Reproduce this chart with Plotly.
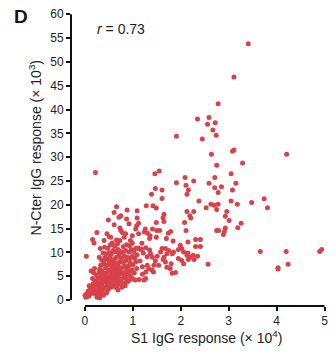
import plotly.graph_objects as go

# ---- data: S1 IgG (x 10^4) vs N-Cter IgG (x 10^3) ----
# upper / sparse points
s1_upper = [3.41, 3.11, 2.78, 2.35, 2.59, 2.72, 2.56, 2.67, 2.74, 2.45, 1.91, 3.08, 3.11, 4.21, 2.64,
            3.29, 2.75, 0.22, 1.46, 1.55, 3.05, 2.71, 2.09, 2.27, 1.91, 2.59, 3.15, 2.11, 2.71, 2.85,
            2.16, 2.13, 2.78, 3.08, 1.47, 1.61, 1.39, 1.61, 2.38, 3.05, 3.18, 3.48, 3.74, 3.81, 2.63,
            2.70, 2.78, 2.53, 2.75, 2.13, 2.27, 2.96, 2.93, 2.21, 2.19, 3.01, 3.26, 3.19, 2.93, 2.91,
            2.75, 2.79, 2.89, 3.66, 4.20, 4.90, 4.94, 4.03, 4.03, 4.24, 2.57, 2.31, 2.41, 2.31, 2.41,
            2.15, 2.08, 2.11]
nc_upper = [53.8, 46.8, 41.2, 38.0, 38.3, 37.2, 36.9, 35.7, 34.6, 33.8, 34.4, 31.25, 31.5, 30.6, 30.6,
            28.75, 28.3, 26.8, 26.5, 27.1, 26.5, 25.7, 25.7, 25.0, 24.6, 24.5, 24.5, 24.1, 23.6, 23.8,
            23.1, 22.2, 22.6, 23.1, 23.4, 23.1, 22.2, 21.3, 20.8, 20.8, 20.1, 20.5, 21.25, 19.4, 20.1,
            19.9, 20.1, 19.4, 19.0, 18.6, 18.6, 18.6, 17.6, 17.2, 17.7, 16.7, 16.1, 15.2, 15.1, 14.4,
            14.6, 14.6, 13.75, 10.2, 10.2, 10.2, 10.6, 6.8, 6.5, 7.5, 7.5, 12.7, 12.7, 11.25, 11.25,
            12.2, 16.3, 14.6]

# middle band
s1_mid = [1.28, 1.42, 1.49, 1.09, 0.88, 1.65, 1.63, 1.65, 1.09, 1.12, 1.49, 1.08, 1.06, 0.92, 1.26,
          1.31, 1.24, 1.36, 1.35, 1.50, 1.56, 1.41, 1.49, 1.74, 1.79, 1.12, 0.99, 0.95, 1.19, 1.37,
          1.41, 1.61, 1.68, 1.75, 1.58, 1.71, 1.82, 1.85, 1.95, 1.99, 2.02, 2.06, 2.13, 2.19, 2.26,
          2.16, 1.95, 2.02, 2.06, 1.65, 1.63, 1.68, 1.80, 1.71, 1.78, 1.54, 1.44, 1.40, 1.43, 1.82,
          1.89, 1.51, 1.47, 2.15, 2.35, 2.28, 1.13, 1.20, 1.27, 1.20, 1.30, 1.15, 1.30, 1.22, 1.18,
          1.27, 1.35, 1.27, 1.06, 1.11, 1.16, 1.33, 1.23, 1.84, 1.70]
nc_mid = [19.8, 19.8, 19.3, 18.75, 18.9, 18.0, 17.3, 16.5, 17.2, 16.1, 16.3, 15.6, 14.9, 16.0, 14.9,
          14.0, 14.3, 13.5, 12.9, 14.6, 14.6, 14.9, 13.2, 14.0, 14.4, 13.9, 13.5, 12.5, 11.9, 9.7,
          9.0, 10.8, 10.8, 10.4, 10.1, 9.7, 9.7, 10.1, 10.6, 11.5, 10.8, 10.1, 9.4, 9.0, 9.4,
          8.5, 8.7, 8.3, 7.6, 9.0, 8.5, 8.0, 7.6, 6.9, 6.6, 7.3, 7.3, 6.3, 5.9, 5.6,
          5.8, 9.2, 8.2, 9.9, 9.2, 8.5, 4.3, 5.4, 5.9, 7.0, 7.3, 8.2, 9.1, 9.9, 10.7,
          11.0, 10.5, 4.5, 10.8, 10.9, 10.6, 6.6, 4.2, 12.4, 12.9]

# dense low cluster
s1_low = [0.00, 0.02, 0.04, 0.07, 0.10, 0.12, 0.09, 0.14, 0.15, 0.17, 0.19, 0.21, 0.23, 0.25, 0.26,
          0.28, 0.27, 0.24, 0.18, 0.13, 0.20, 0.29, 0.30, 0.16, 0.03, 0.16, 0.19, 0.25, 0.31, 0.33,
          0.35, 0.37, 0.32, 0.36, 0.40, 0.42, 0.34, 0.38, 0.44, 0.31, 0.36, 0.41, 0.43, 0.33, 0.39,
          0.45, 0.35, 0.42, 0.44, 0.38, 0.30, 0.40, 0.32, 0.41, 0.45, 0.39, 0.47, 0.50, 0.52, 0.48,
          0.55, 0.57, 0.49, 0.53, 0.58, 0.46, 0.51, 0.56, 0.59, 0.48, 0.54, 0.58, 0.47, 0.52, 0.57,
          0.50, 0.55, 0.59, 0.48, 0.53, 0.46, 0.51, 0.54, 0.49, 0.57, 0.61, 0.63, 0.66, 0.70, 0.73,
          0.62, 0.68, 0.72, 0.64, 0.60, 0.67, 0.74, 0.63, 0.69, 0.72, 0.61, 0.66, 0.71, 0.64, 0.69,
          0.74, 0.62, 0.68, 0.73, 0.66, 0.61, 0.73, 0.75, 0.78, 0.66, 0.61, 0.75, 0.71, 0.69, 0.77,
          0.80, 0.84, 0.88, 0.76, 0.82, 0.87, 0.79, 0.85, 0.89, 0.77, 0.83, 0.88, 0.80, 0.86, 0.76,
          0.82, 0.89, 0.78, 0.85, 0.80, 0.87, 0.82, 0.85, 0.87, 0.92, 0.96, 1.00, 1.05, 0.93, 0.98,
          1.03, 1.08, 0.91, 0.95, 1.00, 1.06, 0.94, 0.99, 1.04, 1.09, 0.92, 0.97, 1.02, 0.93, 0.99,
          0.34, 0.46, 0.52, 0.60, 0.65, 0.56, 0.43, 0.27, 0.22, 0.40, 0.50, 0.62, 0.70, 0.58, 0.35,
          0.29, 0.18, 0.08]
nc_low = [1.0, 0.6, 1.4, 1.9, 1.2, 2.4, 3.0, 2.9, 1.7, 3.4, 2.3, 4.0, 3.1, 0.6, 1.2,
          1.8, 4.6, 5.3, 5.8, 6.1, 6.6, 2.6, 5.9, 4.5, 9.2, 12.7, 12.0, 14.2, 0.5, 1.1,
          1.6, 2.2, 3.0, 3.5, 2.7, 3.9, 4.3, 4.8, 4.5, 6.5, 6.1, 5.6, 6.8, 7.3, 7.6,
          7.2, 8.4, 8.9, 9.7, 9.9, 9.0, 12.5, 10.8, 11.1, 1.5, 1.0, 2.0, 2.4, 3.2, 3.6,
          3.9, 2.8, 4.7, 5.1, 4.6, 5.8, 6.3, 5.9, 6.6, 7.4, 7.8, 7.2, 8.6, 9.1, 8.4,
          10.0, 9.6, 10.4, 10.9, 11.6, 13.9, 13.3, 13.2, 16.8, 12.0, 3.1, 3.7, 2.6, 3.3, 4.0,
          4.5, 4.9, 5.4, 5.7, 6.9, 6.4, 6.1, 7.7, 7.4, 8.0, 8.5, 9.0, 9.4, 10.1, 10.6,
          10.2, 11.3, 11.8, 12.5, 12.6, 15.8, 15.1, 14.6, 14.2, 19.6, 18.4, 17.7, 17.4, 2.1, 2.7,
          3.5, 3.0, 3.8, 4.4, 4.7, 4.3, 5.5, 5.9, 5.2, 6.8, 7.1, 6.6, 7.9, 8.3, 8.8,
          9.3, 9.0, 10.0, 10.4, 11.2, 11.6, 13.2, 13.9, 17.0, 4.1, 4.9, 4.4, 4.2, 5.8, 6.3,
          5.7, 6.6, 7.2, 7.8, 7.4, 8.0, 8.7, 9.2, 8.8, 9.5, 10.1, 10.6, 10.2, 11.4, 11.9,
          5.2, 3.1, 4.2, 5.2, 4.2, 6.8, 5.0, 3.7, 2.0, 8.1, 8.2, 6.0, 6.9, 3.5, 2.6,
          1.1, 1.4, 0.8]

s1 = s1_upper + s1_mid + s1_low
ncter = nc_upper + nc_mid + nc_low

x_ticks = [0, 1, 2, 3, 4, 5]
y_ticks = [0, 5, 10, 15, 20, 25, 30, 35, 40, 45, 50, 55, 60]

RED = "#d8424a"
FONT = "Liberation Sans, Arial, sans-serif"

fig = go.Figure()
fig.add_trace(go.Scatter(
    x=s1, y=ncter, mode="markers",
    marker=dict(size=5, color=RED, line=dict(width=0)),
    hoverinfo="skip", showlegend=False,
))

fig.update_layout(
    width=335, height=361,
    margin=dict(l=71, r=7, t=12, b=55),
    paper_bgcolor="white", plot_bgcolor="white",
    font=dict(family=FONT, color="#222222"),
    xaxis=dict(range=[-0.29, 5.01], tickvals=x_ticks, ticks="outside", ticklen=4, tickwidth=1.5,
               tickcolor="#111111", showline=False, showgrid=False, zeroline=False,
               tickfont=dict(size=12, family=FONT, color="#222222")),
    yaxis=dict(range=[-1.25, 60.05], tickvals=y_ticks, ticks="outside", ticklen=4, tickwidth=1.5,
               tickcolor="#111111", showline=False, showgrid=False, zeroline=False,
               tickfont=dict(size=12, family=FONT, color="#222222")),
    shapes=[
        dict(type="line", xref="paper", yref="y", x0=0, x1=0, y0=0, y1=60,
             line=dict(color="#111111", width=2)),
        dict(type="line", xref="x", yref="paper", x0=0, x1=5, y0=0, y1=0,
             line=dict(color="#111111", width=2)),
    ],
    annotations=[
        dict(text="<b>D</b>", xref="paper", yref="paper", x=-0.198, y=0.993, showarrow=False,
             font=dict(size=19, family=FONT, color="#111111"), xanchor="center", yanchor="middle"),
        dict(text="<i>r</i> = 0.73", xref="paper", yref="paper", x=0.198, y=0.949, showarrow=False,
             font=dict(size=14, family=FONT, color="#222222"), xanchor="center", yanchor="middle"),
        dict(text="S1 IgG response (× 10<sup>4</sup>)", xref="paper", yref="paper", x=0.533, y=-0.107,
             showarrow=False, font=dict(size=14, family=FONT, color="#222222"),
             xanchor="center", yanchor="middle"),
        dict(text="N-Cter IgG response (× 10<sup>3</sup>)", xref="paper", yref="paper", x=-0.140,
             y=0.541, showarrow=False, textangle=-90, font=dict(size=14, family=FONT, color="#222222"),
             xanchor="center", yanchor="middle"),
    ],
)

fig.write_html("out.html", config={"displayModeBar": False},
               post_script="document.body.style.margin='0';")
